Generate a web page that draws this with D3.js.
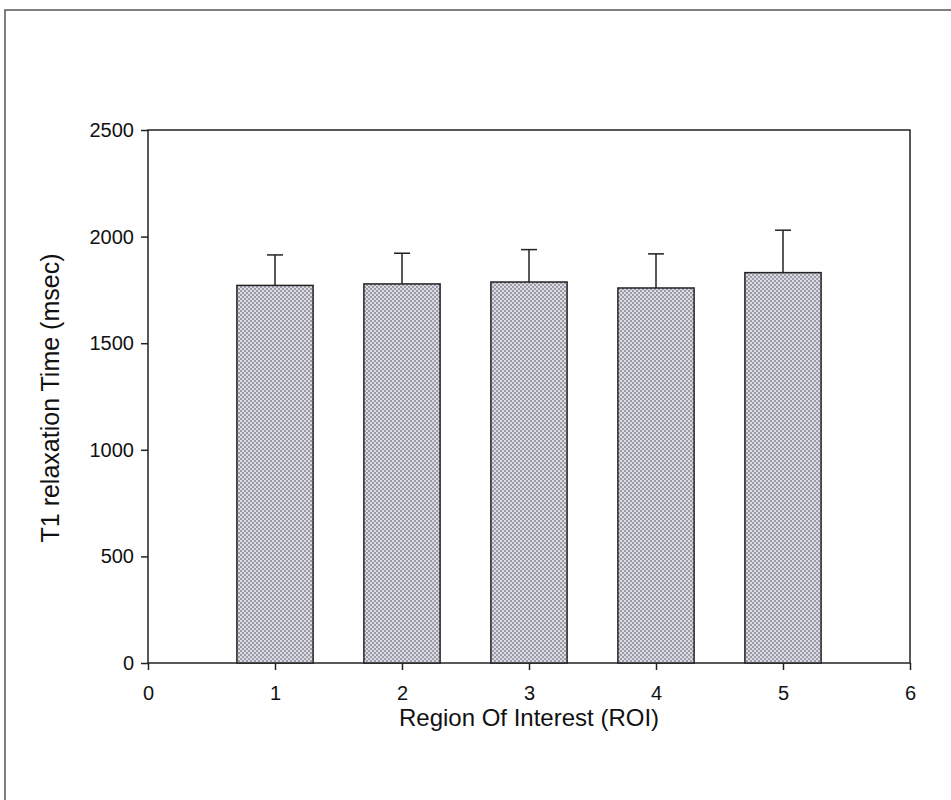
<!DOCTYPE html>
<html>
<head>
<meta charset="utf-8">
<script src="https://cdn.jsdelivr.net/npm/d3@7"></script>
<style>
  body { margin: 0; background: #fff; }
  svg { display: block; }
</style>
</head>
<body>
<svg id="chart" width="951" height="800"></svg>
<script>
const regions = [1, 2, 3, 4, 5];
const meanT1 = [1771, 1778, 1787, 1759, 1831];
const errUp = [143, 144, 152, 160, 199];
const xTicks = [0, 1, 2, 3, 4, 5, 6];
const yTicks = [0, 500, 1000, 1500, 2000, 2500];

const svg = d3.select("#chart");
const margin = { left: 148, right: 41, top: 130, bottom: 137 };
const width = 951 - margin.left - margin.right;
const height = 800 - margin.top - margin.bottom;

// page frame
svg.append("path")
  .attr("d", "M5,800 L5,10 L951,10")
  .attr("fill", "none")
  .attr("stroke", "#555")
  .attr("stroke-width", 1.5);

// dotted fill like the scanned print
const defs = svg.append("defs");
const pat = defs.append("pattern")
  .attr("id", "dots")
  .attr("width", 4).attr("height", 4)
  .attr("patternUnits", "userSpaceOnUse");
pat.append("rect").attr("width", 4).attr("height", 4).attr("fill", "#dcdce4");
pat.append("rect").attr("x", 0).attr("y", 0).attr("width", 2).attr("height", 2).attr("fill", "#9c9ca8");
pat.append("rect").attr("x", 2).attr("y", 2).attr("width", 2).attr("height", 2).attr("fill", "#9c9ca8");

const g = svg.append("g").attr("transform", `translate(${margin.left},${margin.top})`);

const x = d3.scaleLinear().domain([0, 6]).range([0, width]);
const y = d3.scaleLinear().domain([0, 2500]).range([height, 0]);

// plot box
g.append("rect")
  .attr("width", width).attr("height", height)
  .attr("fill", "none").attr("stroke", "#222").attr("stroke-width", 1.5);

const barW = x(0.6) - x(0);

// error bars (upper only)
g.selectAll(".err")
  .data(regions)
  .join("g")
  .attr("class", "err")
  .each(function (d, i) {
    const e = d3.select(this);
    const cx = x(d);
    e.append("line")
      .attr("x1", cx).attr("x2", cx)
      .attr("y1", y(meanT1[i])).attr("y2", y(meanT1[i] + errUp[i]))
      .attr("stroke", "#222").attr("stroke-width", 1.5);
    e.append("line")
      .attr("x1", cx - 8).attr("x2", cx + 8)
      .attr("y1", y(meanT1[i] + errUp[i])).attr("y2", y(meanT1[i] + errUp[i]))
      .attr("stroke", "#222").attr("stroke-width", 1.5);
  });

g.selectAll(".bar")
  .data(regions)
  .join("rect")
  .attr("class", "bar")
  .attr("x", d => x(d) - barW / 2)
  .attr("width", barW)
  .attr("y", (d, i) => y(meanT1[i]))
  .attr("height", (d, i) => y(0) - y(meanT1[i]))
  .attr("fill", "url(#dots)")
  .attr("stroke", "#222")
  .attr("stroke-width", 1.5);

// axes
const xAxis = g.append("g")
  .attr("transform", `translate(0,${height})`)
  .call(d3.axisBottom(x).tickValues(xTicks).tickSize(7).tickPadding(16).tickFormat(d3.format("d")));
const yAxis = g.append("g")
  .call(d3.axisLeft(y).tickValues(yTicks).tickSize(7).tickPadding(7).tickFormat(d3.format("d")));

[xAxis, yAxis].forEach(a => {
  a.select(".domain").remove();
  a.selectAll("line").attr("stroke", "#222").attr("stroke-width", 1.5);
  a.selectAll("text")
    .attr("fill", "#111")
    .style("font-family", "'Liberation Sans', Arial, sans-serif")
    .style("font-size", "20px");
});

// axis titles
svg.append("text")
  .attr("x", margin.left + width / 2)
  .attr("y", 726)
  .attr("text-anchor", "middle")
  .style("font-family", "'Liberation Sans', Arial, sans-serif")
  .style("font-size", "24px")
  .attr("fill", "#111")
  .text("Region Of Interest (ROI)");

svg.append("text")
  .attr("transform", `translate(59,398) rotate(-90)`)
  .attr("text-anchor", "middle")
  .style("font-family", "'Liberation Sans', Arial, sans-serif")
  .style("font-size", "25px")
  .attr("fill", "#111")
  .text("T1 relaxation Time (msec)");
</script>
</body>
</html>
